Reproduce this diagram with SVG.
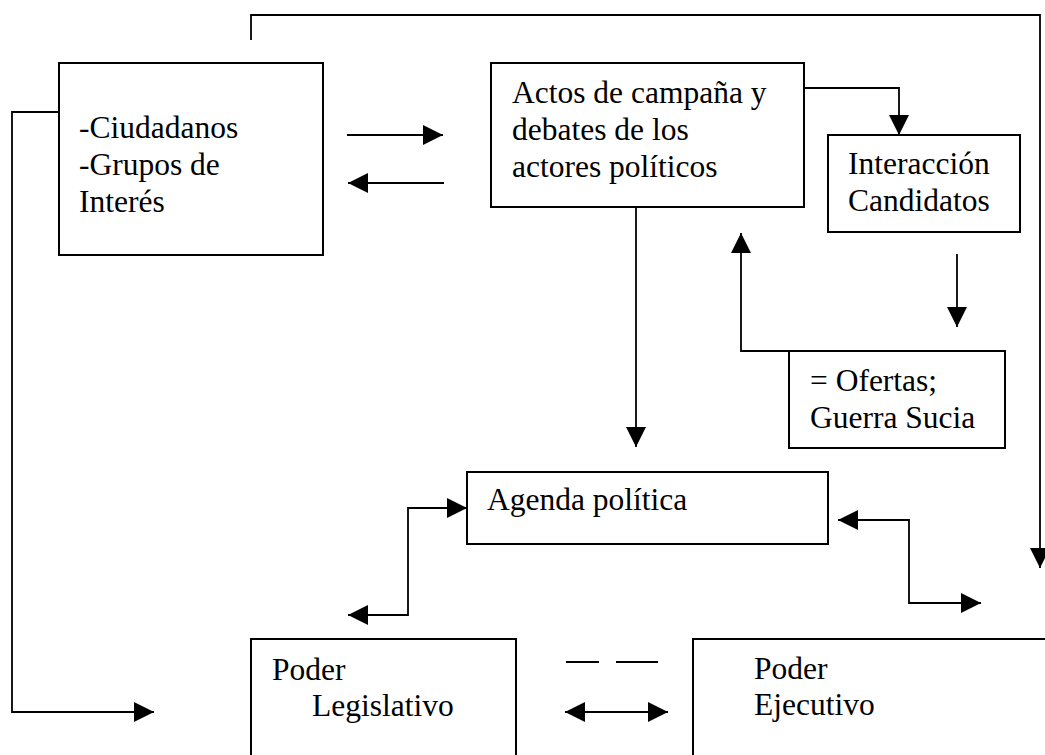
<svg xmlns="http://www.w3.org/2000/svg" width="1045" height="755" viewBox="0 0 1045 755">
<style>
.box{fill:#fff;stroke:#000;stroke-width:2}
.ln{fill:none;stroke:#000;stroke-width:1.8}
.t{font-family:"Liberation Serif","Times New Roman",serif;font-size:31.5px;fill:#000}
</style>
<defs>
<marker id="ah" markerUnits="userSpaceOnUse" markerWidth="20" markerHeight="20" refX="20" refY="10" orient="auto-start-reverse">
<path d="M0,0 L20,10 L0,20 z" fill="#000"/>
</marker>
</defs>
<rect width="1045" height="755" fill="#fff"/>
<g id="connectors">
<path class="ln" d="M251,40 V15 H1040 V568" marker-end="url(#ah)"/>
<path class="ln" d="M59,112 H12 V712 H154" marker-end="url(#ah)"/>
<path class="ln" d="M347,135 H443" marker-end="url(#ah)"/>
<path class="ln" d="M444,183 H348" marker-end="url(#ah)"/>
<path class="ln" d="M804,88 H899 V135" marker-end="url(#ah)"/>
<path class="ln" d="M636,207 V447" marker-end="url(#ah)"/>
<path class="ln" d="M957,254 V327" marker-end="url(#ah)"/>
<path class="ln" d="M789,351 H741 V233" marker-end="url(#ah)"/>
<path class="ln" d="M467,508 H408 V615 H348" marker-start="url(#ah)" marker-end="url(#ah)"/>
<path class="ln" d="M838,520 H909 V603 H981" marker-start="url(#ah)" marker-end="url(#ah)"/>
<path class="ln" d="M565,712 H668" marker-start="url(#ah)" marker-end="url(#ah)"/>
<path class="ln" d="M566,662 H599 M616,662 H658"/>
</g>
<g id="ciudadanos">
<rect class="box" x="59" y="63" width="264" height="192"/>
<text class="t" x="79" y="138">-Ciudadanos</text>
<text class="t" x="79" y="175">-Grupos de</text>
<text class="t" x="79" y="212">Interés</text>
</g>
<g id="actos">
<rect class="box" x="491" y="63" width="313" height="144"/>
<text class="t" x="512" y="103">Actos de campaña y</text>
<text class="t" x="512" y="140">debates de los</text>
<text class="t" x="512" y="177">actores políticos</text>
</g>
<g id="interaccion">
<rect class="box" x="828" y="135" width="192" height="97"/>
<text class="t" x="848" y="174">Interacción</text>
<text class="t" x="848" y="211">Candidatos</text>
</g>
<g id="ofertas">
<rect class="box" x="789" y="351" width="216" height="97"/>
<text class="t" x="810" y="391">= Ofertas;</text>
<text class="t" x="810" y="428">Guerra Sucia</text>
</g>
<g id="agenda">
<rect class="box" x="467" y="472" width="361" height="72"/>
<text class="t" x="487" y="510">Agenda política</text>
</g>
<g id="legislativo">
<rect class="box" x="251" y="639" width="265" height="140"/>
<text class="t" x="272" y="680">Poder</text>
<text class="t" x="312" y="716">Legislativo</text>
</g>
<g id="ejecutivo">
<rect class="box" x="693" y="639" width="380" height="140"/>
<text class="t" x="754" y="679">Poder</text>
<text class="t" x="754" y="715">Ejecutivo</text>
</g>
</svg>
